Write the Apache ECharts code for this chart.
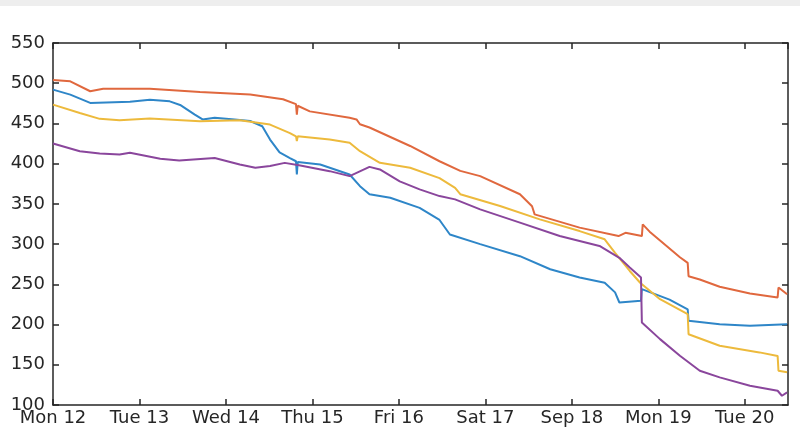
<!DOCTYPE html>
<html>
<head>
<meta charset="utf-8">
<script src="https://cdn.jsdelivr.net/npm/echarts@6/dist/echarts.min.js"></script>
<style>
  html, body { margin: 0; padding: 0; background: #fff; }
  #chart { width: 800px; height: 447px; }
</style>
</head>
<body>
<div id="chart"></div>
<script>
// x = days since Mon 12 00:00, y = value
var dayLabels = ['Mon 12', 'Tue 13', 'Wed 14', 'Thu 15', 'Fri 16', 'Sat 17', 'Sep 18', 'Mon 19', 'Tue 20'];

var blueLine = [
  [0, 492], [0.2, 485.8], [0.43, 475.5], [0.89, 477], [1.12, 479.6], [1.35, 477.5], [1.47, 473],
  [1.64, 461], [1.73, 455], [1.87, 457], [2.1, 455], [2.28, 453], [2.42, 446.5], [2.51, 430],
  [2.62, 414], [2.74, 407], [2.81, 403], [2.82, 386.5], [2.83, 402], [3.09, 399], [3.43, 386.5],
  [3.55, 372], [3.66, 362], [3.9, 357.7], [4.24, 345], [4.47, 330], [4.59, 312], [4.94, 300],
  [5.4, 285], [5.75, 268.7], [6.09, 258.5], [6.38, 252], [6.5, 240], [6.55, 227.4], [6.8, 229.5],
  [6.81, 244], [7.13, 231], [7.34, 219], [7.35, 204.6], [7.71, 200.5], [8.06, 198.4], [8.49, 200.5]
];

var orangeLine = [
  [0, 504], [0.2, 502.4], [0.43, 490], [0.58, 493], [1.12, 493], [1.7, 489], [2.28, 486],
  [2.66, 480], [2.81, 474], [2.82, 461], [2.83, 472], [2.97, 465], [3.43, 457], [3.51, 455],
  [3.55, 449], [3.66, 445], [4.13, 422], [4.47, 403], [4.71, 391], [4.94, 384.5], [5.4, 362],
  [5.54, 347], [5.57, 337], [6.09, 320.5], [6.54, 310], [6.62, 314], [6.81, 310], [6.82, 324.5],
  [6.9, 315.5], [7.25, 283.7], [7.34, 276.7], [7.35, 260], [7.48, 256], [7.71, 247],
  [8.06, 238.6], [8.38, 233.6], [8.39, 246], [8.49, 237.7]
];

var yellowLine = [
  [0, 473.4], [0.31, 463], [0.54, 455.7], [0.77, 454], [1.12, 456], [1.7, 452.7], [2.16, 454],
  [2.51, 448.6], [2.74, 438], [2.81, 434], [2.82, 428], [2.83, 434], [3.2, 430], [3.43, 426],
  [3.55, 415.5], [3.78, 401], [4.13, 395], [4.47, 382], [4.65, 370], [4.71, 362], [5.17, 347.3],
  [5.63, 330.8], [6.09, 316.2], [6.38, 306], [6.5, 289], [6.67, 266.6], [6.79, 252], [7.02, 231.5],
  [7.34, 213], [7.35, 188], [7.71, 173.6], [8.17, 165.4], [8.38, 161], [8.39, 142.6], [8.49, 140.6]
];

var purpleLine = [
  [0, 425], [0.31, 415.5], [0.54, 412.6], [0.77, 411.4], [0.89, 413.5], [1.24, 406], [1.46, 404],
  [1.87, 407], [2.16, 399], [2.34, 395], [2.51, 397], [2.68, 401], [2.86, 397.8], [3.2, 390.7],
  [3.43, 384.5], [3.66, 396], [3.78, 392.8], [4.01, 378], [4.24, 368], [4.47, 359.7], [4.65, 355.6],
  [4.94, 343.2], [5.4, 326.7], [5.86, 310], [6.32, 297.7], [6.55, 283], [6.67, 271], [6.8, 258.5],
  [6.81, 202.6], [7.02, 181.9], [7.25, 161.2], [7.48, 142.6], [7.71, 134.3], [8.06, 124],
  [8.38, 117.7], [8.43, 111.5], [8.49, 115.7]
];

var colors = ['#2E86C8', '#E0683E', '#EDBA3C', '#8A469C'];

var chart = echarts.init(document.getElementById('chart'));

var boxLine = { show: true, onZero: false, lineStyle: { color: '#262626', width: 1.5 } };
var inTick = { show: true, inside: true, length: 6, lineStyle: { color: '#262626', width: 1.5 } };
var labelFont = { fontFamily: 'DejaVu Sans, sans-serif', fontSize: 18, color: '#262626' };

function mkSeries(name, data, color) {
  return {
    name: name,
    type: 'line',
    data: data,
    showSymbol: false,
    silent: true,
    animation: false,
    lineStyle: { color: color, width: 2 }
  };
}

chart.setOption({
  animation: false,
  color: colors,
  graphic: [{
    type: 'rect',
    shape: { x: 0, y: 0, width: 800, height: 6 },
    style: { fill: '#eeeeee' },
    silent: true
  }],
  grid: { left: 53, right: 12, top: 43, bottom: 42 },
  xAxis: [{
    type: 'value',
    min: 0,
    max: 8.5,
    interval: 1,
    position: 'bottom',
    axisLine: boxLine,
    axisTick: inTick,
    splitLine: { show: false },
    axisLabel: Object.assign({
      margin: 4,
      showMaxLabel: false,
      formatter: function (v) {
        return Number.isInteger(v) && dayLabels[v] ? dayLabels[v] : '';
      }
    }, labelFont)
  }, {
    type: 'value',
    min: 0,
    max: 8.5,
    interval: 1,
    position: 'top',
    axisLine: boxLine,
    axisTick: inTick,
    splitLine: { show: false },
    axisLabel: { show: false }
  }],
  yAxis: [{
    type: 'value',
    min: 100,
    max: 550,
    interval: 50,
    position: 'left',
    axisLine: boxLine,
    axisTick: inTick,
    splitLine: { show: false },
    axisLabel: Object.assign({ margin: 8 }, labelFont)
  }, {
    type: 'value',
    min: 100,
    max: 550,
    interval: 50,
    position: 'right',
    axisLine: boxLine,
    axisTick: inTick,
    splitLine: { show: false },
    axisLabel: { show: false }
  }],
  series: [
    mkSeries('A', blueLine, colors[0]),
    mkSeries('B', orangeLine, colors[1]),
    mkSeries('C', yellowLine, colors[2]),
    mkSeries('D', purpleLine, colors[3])
  ]
});
</script>
</body>
</html>
